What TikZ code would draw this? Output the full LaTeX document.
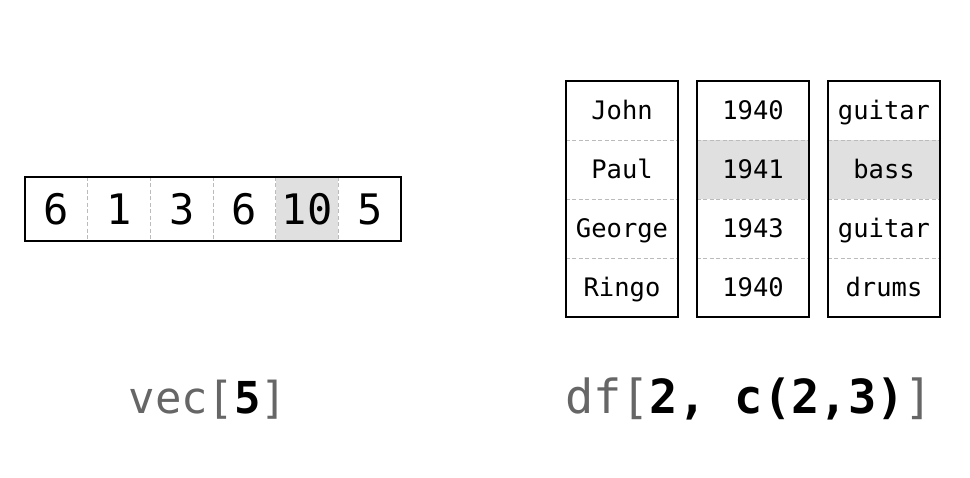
\documentclass[tikz,border=0pt]{standalone}
\usepackage{fontspec}
\setmonofont{DejaVu Sans Mono}
\begin{document}
\begin{tikzpicture}[x=1pt,y=-1pt,
  vcell/.style={inner sep=0pt, minimum width=62.67pt, minimum height=64pt, text height=30.6pt, text depth=0pt, font=\ttfamily\fontsize{42}{42}\selectfont},
  dcell/.style={inner sep=0pt, minimum width=112pt, minimum height=59pt, text height=18.6pt, text depth=0pt, font=\ttfamily\fontsize{25.5}{26}\selectfont},
  hl/.style={fill=hlgray},
  divider/.style={draw=divgray, dashed, dash pattern=on 4pt off 2.5pt, line width=0.8pt},
  border/.style={draw=black, line width=1.8pt},
  caption/.style={inner sep=0pt, anchor=base, text=capgray, font=\ttfamily\fontsize{46}{46}\selectfont}
]
\definecolor{hlgray}{HTML}{E0E0E0}
\definecolor{divgray}{HTML}{BBBBBB}
\definecolor{capgray}{HTML}{666666}
\useasboundingbox (0,0) rectangle (970,477);
\fill[white] (0,0) rectangle (970,477);

% vector
\node[vcell] (v1) at (56.33,209) {6};
\node[vcell] (v2) at (119,209) {1};
\node[vcell] (v3) at (181.67,209) {3};
\node[vcell] (v4) at (244.33,209) {6};
\node[vcell,hl] (v5) at (307,209) {10};
\node[vcell] (v6) at (369.67,209) {5};
\foreach \a in {1,...,5}{
  \draw[divider] (v\a.north east) -- (v\a.south east);
}
\draw[border] (v1.north west) rectangle (v6.south east);

% data frame
\foreach \c/\x in {1/622,2/753,3/884}{
  \foreach \r/\y in {1/110.5,2/169.5,3/228.5,4/287.5}{
    \coordinate (p\c\r) at (\x,\y);
  }
}
\node[dcell] (a1) at (p11) {John};
\node[dcell] (a2) at (p12) {Paul};
\node[dcell] (a3) at (p13) {George};
\node[dcell] (a4) at (p14) {Ringo};
\node[dcell] (b1) at (p21) {1940};
\node[dcell,hl] (b2) at (p22) {1941};
\node[dcell] (b3) at (p23) {1943};
\node[dcell] (b4) at (p24) {1940};
\node[dcell] (c1) at (p31) {guitar};
\node[dcell,hl] (c2) at (p32) {bass};
\node[dcell] (c3) at (p33) {guitar};
\node[dcell] (c4) at (p34) {drums};
\foreach \col in {a,b,c}{
  \foreach \r in {1,2,3}{
    \draw[divider] (\col\r.south west) -- (\col\r.south east);
  }
  \draw[border] (\col1.north west) rectangle (\col4.south east);
}

% captions
\node[caption, font=\ttfamily\fontsize{44}{44}\selectfont] (cap1) at (208,413) {vec[\textbf{\textcolor{black}{5}}]};
\node[caption, font=\ttfamily\fontsize{47}{47}\selectfont] (cap2) at (749,413) {df[\textbf{\textcolor{black}{2,~c(2,3)}}]};
\end{tikzpicture}
\end{document}
